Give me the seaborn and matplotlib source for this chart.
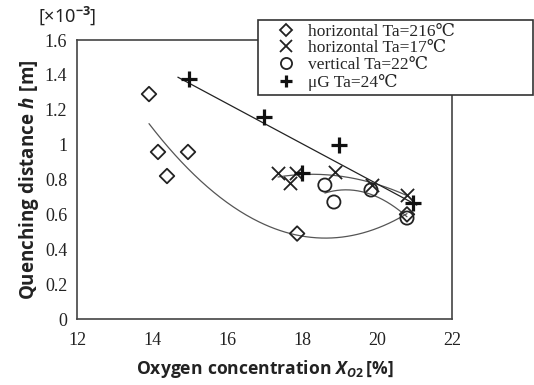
import numpy as np
import pandas as pd
import seaborn as sns
import matplotlib
matplotlib.use("Agg")
import matplotlib.pyplot as plt
from matplotlib.lines import Line2D

# ---- data (x: oxygen concentration %, y: quenching distance ×10^-3 m) ----
diamond_x = [13.92, 14.16, 14.40, 14.96, 17.87, 20.80]
diamond_y = [1.29, 0.958, 0.82, 0.958, 0.49, 0.60]

cross_x = [17.36, 17.84, 17.68, 18.88, 19.87, 20.80]
cross_y = [0.837, 0.837, 0.78, 0.843, 0.768, 0.711]

circle_x = [18.61, 18.85, 19.84, 20.80]
circle_y = [0.768, 0.671, 0.74, 0.579]

plus_x = [14.99, 16.99, 18.00, 18.99, 20.96]
plus_y = [1.376, 1.158, 0.837, 1.00, 0.665]

labels = ["horizontal Ta=216\u2103", "horizontal Ta=17\u2103",
          "vertical Ta=22\u2103", "\u03bcG Ta=24\u2103"]
xticks = [12, 14, 16, 18, 20, 22]
yticks = [0, 0.2, 0.4, 0.6, 0.8, 1.0, 1.2, 1.4, 1.6]
ytick_labels = ["0", "0.2", "0.4", "0.6", "0.8", "1", "1.2", "1.4", "1.6"]

sns.set_style("white")
serif = ["Liberation Serif", "DejaVu Serif"]
plt.rcParams["font.family"] = serif
plt.rcParams["mathtext.fontset"] = "custom"
plt.rcParams["mathtext.rm"] = "Open Sans:bold"
plt.rcParams["mathtext.it"] = "Open Sans:italic:bold"
plt.rcParams["mathtext.bf"] = "Open Sans:bold"

fig = plt.figure(figsize=(5.34, 3.85), dpi=100)
ax = fig.add_axes([0.1442, 0.1714, 0.7022, 0.7247])

series = [
    (diamond_x, diamond_y, "D", dict(s=55, facecolors="none", edgecolors="#222222", linewidths=1.3), 2, (0, 0)),
    (cross_x, cross_y, "x", dict(s=90, color="#222222", linewidths=1.3), 2, (0, 0)),
    (circle_x, circle_y, "o", dict(s=90, facecolors="none", edgecolors="#222222", linewidths=1.3), 2, (0, 0)),
    (plus_x, plus_y, "P", None, 1, (0.3, 0.1)),
]

for (xs, ys, m, kw, deg, ext) in series:
    df = pd.DataFrame({"x": xs, "y": ys})
    # trend line from polynomial fit of the series
    coef = np.polyfit(df["x"], df["y"], deg)
    gx = np.linspace(min(xs) - ext[0], max(xs) + ext[1], 200)
    tdf = pd.DataFrame({"x": gx, "y": np.polyval(coef, gx)})
    sns.lineplot(data=tdf, x="x", y="y", ax=ax, color="#555555" if deg == 2 else "#222222",
                 linewidth=0.9, zorder=2)
    if m == "P":
        sns.scatterplot(data=df, x="x", y="y", ax=ax, marker="+", s=130,
                        color="#111111", linewidth=2.3, zorder=3)
    else:
        sns.scatterplot(data=df, x="x", y="y", ax=ax, marker=m, zorder=3, **kw)

hl = [
    Line2D([], [], marker="D", ls="none", mfc="none", mec="#222222", ms=6, mew=1.3),
    Line2D([], [], marker="x", ls="none", color="#222222", ms=8, mew=1.3),
    Line2D([], [], marker="o", ls="none", mfc="none", mec="#222222", ms=8, mew=1.3),
    Line2D([], [], marker="+", ls="none", color="#111111", ms=9, mew=2.3),
]
leg = fig.legend(hl, labels, loc="upper left", bbox_to_anchor=(0.483, 0.756, 0.515, 0.192),
                 mode="expand", frameon=True, fancybox=False, edgecolor="#333333",
                 framealpha=1, borderpad=0.2, labelspacing=0.04, handletextpad=-0.1,
                 borderaxespad=0, prop={"family": serif, "size": 12.5}, handlelength=2.8)
leg.get_frame().set_linewidth(1.2)

ax.set_xlim(12, 22)
ax.set_ylim(0, 1.6)
ax.set_xticks(xticks)
ax.set_yticks(yticks)
ax.set_yticklabels(ytick_labels)
ax.tick_params(direction="in", length=3, width=0.8, labelsize=13, colors="#333333",
               labelcolor="#222222", pad=7)
ax.tick_params(axis="x", pad=9)
for sp in ax.spines.values():
    sp.set_visible(True)
    sp.set_color("#444444")
    sp.set_linewidth(1.2)

ax.set_xlabel(r"$\mathrm{Oxygen\ concentration}\ \mathit{X}_{\mathit{O2}}\,\mathrm{[\%]}$",
              fontsize=12.6, labelpad=7, color="#222222")
ax.set_ylabel(r"$\mathrm{Quenching\ distance}\ \mathit{h}\ \mathrm{[m]}$",
              fontsize=13.5, labelpad=3, color="#222222")

fig.text(0.125, 0.958, "[\u00d710$^{-3}$]", fontsize=13, ha="center", va="center",
         family=["Noto Sans", "DejaVu Sans"], color="#222222")

fig.savefig("out.png", dpi=100)
